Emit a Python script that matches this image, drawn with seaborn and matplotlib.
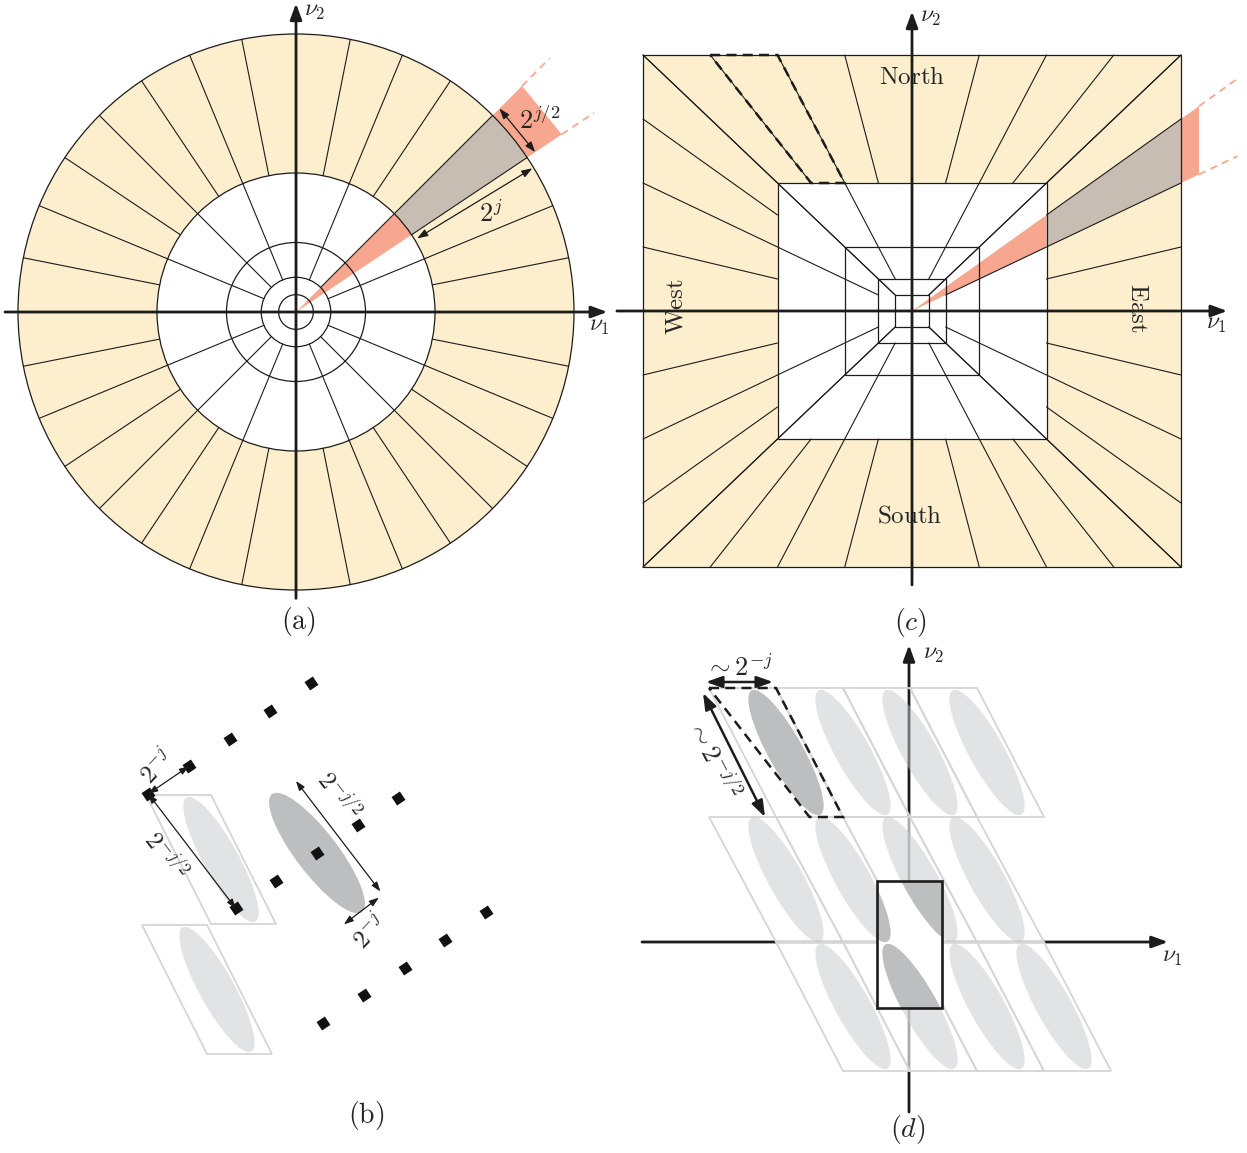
import numpy as np
import matplotlib
matplotlib.use("Agg")
import matplotlib.pyplot as plt
import seaborn as sns
from matplotlib.patches import Wedge, Circle, Polygon, Rectangle, Ellipse

W, H = 1247, 1153

# ---- panel (a): polar (curvelet) tiling ----
RING_RADII = [1 / 16, 1 / 8, 1 / 4, 1 / 2, 1]
OUTER_SPOKES = 32          # angular wedges in the outer band
INNER_SPOKE_START = 1 / 8  # every second spoke reaches down to this ring
HIGHLIGHT_SECTOR = [3, 4]  # wedge edges, in units of 360/32 degrees

# ---- panel (c): pseudo-polar (shearlet) tiling ----
SQUARE_LEVELS = [1 / 16, 1 / 8, 1 / 4, 1 / 2, 1]
SLOPES = [-1, -0.75, -0.5, -0.25, 0, 0.25, 0.5, 0.75, 1]
HIGHLIGHT_SLOPES = [0.5, 0.75]
DASHED_SLOPES = [-0.75, -0.5]
CONE_NAMES = ["North", "South", "West", "East"]

# ---- panel (b): sampling lattice ----
LATTICE_A = (-40.6, -27.7)   # step 2^-j
LATTICE_B = (87.5, -114.5)   # step 2^-j/2
LATTICE_ROWS = [-1, 0, 1]
LATTICE_COLS = [-2, -1, 0, 1, 2]
B_CELL_TOPLEFT = [(-171, 58), (-175, -72)]
B_CELL_SIZE = (65, 129)
BIG_ELLIPSE = (148, 42)      # length, width

# ---- panel (d): sheared tiles ----
CELL_W = 67
ROW_TOP = [254, 125, 0]
ROW_H = [129, 125, 129]
ROW_X0 = [-200, -200, -133]
ROW_VEIL = [0.0, 0.62, 0.62]
CELLS_PER_ROW = 4
TILE_ELLIPSE = (142, 35, -61, 10)  # length, width, angle, shift
WINDOW = (-32, -66, 65, 127)

INK = "#1c1c1c"
CREAM = "#fdefcd"
SALMON = "#f7a78f"
TAUPE = "#c8bdb3"
LIGHT = (0.78, 0.79, 0.80)
DARK = "#bdbec0"
EDGE = "#d5d5d5"

sns.set_theme(style="white")
plt.rcParams["mathtext.fontset"] = "cm"
plt.rcParams["font.family"] = ["DejaVu Serif"]

fig = plt.figure(figsize=(W / 100, H / 100), dpi=100)


def panel_axes(box, center, scale):
    x0, y0, x1, y1 = box
    cx, cy = center
    sx, sy = scale
    ax = fig.add_axes([x0 / W, 1 - y1 / H, (x1 - x0) / W, (y1 - y0) / H])
    ax.set_xlim((x0 - cx) / sx, (x1 - cx) / sx)
    ax.set_ylim((cy - y1) / sy, (cy - y0) / sy)
    ax.set_axis_off()
    return ax


def axis_arrow(ax, start, end, lw=2.0, z=6):
    ax.annotate("", xy=end, xytext=start, annotation_clip=False, zorder=z,
                arrowprops=dict(arrowstyle="-|>,head_length=0.6,head_width=0.22",
                                color=INK, lw=lw, mutation_scale=16,
                                shrinkA=0, shrinkB=0))


def dim_arrow(ax, p, q, lw=0.9, ms=9, z=8):
    ax.annotate("", xy=q, xytext=p, annotation_clip=False, zorder=z,
                arrowprops=dict(arrowstyle="<|-|>,head_length=0.7,head_width=0.25",
                                color=INK, lw=lw, mutation_scale=ms,
                                shrinkA=0, shrinkB=0))


def polar(r, deg):
    t = np.deg2rad(deg)
    return r * np.cos(t), r * np.sin(t)


# =================== (a) ===================
axA = panel_axes((0, 0, 620, 640), (296, 312), (278, 278))
axA.add_patch(Wedge((0, 0), 1, 0, 360, width=0.5, fc=CREAM, ec="none", zorder=1))
th0, th1 = np.array(HIGHLIGHT_SECTOR) * 360 / OUTER_SPOKES
axA.add_patch(Wedge((0, 0), 0.5, th0, th1, fc=SALMON, ec="none", zorder=2))
axA.add_patch(Wedge((0, 0), 1, th0, th1, width=0.5, fc=TAUPE, ec="none", zorder=2))
arc = np.linspace(th0, th1, 30)
tab = [polar(1, a) for a in arc] + [polar(1.15, th1), polar(1.15, th0)]
axA.add_patch(Polygon(tab, fc=SALMON, ec="none", zorder=2))
for a in (th0, th1):
    p, q = polar(1.15, a), polar(1.29, a)
    axA.plot([p[0], q[0]], [p[1], q[1]], color=SALMON, lw=1.3,
             ls=(0, (4, 3)), zorder=2, clip_on=False)

for r in RING_RADII:
    axA.add_patch(Circle((0, 0), r, fill=False, ec=INK, lw=0.9, zorder=3))
for k in range(OUTER_SPOKES):
    ang = k * 360 / OUTER_SPOKES
    r0 = INNER_SPOKE_START if k % 2 == 0 else 0.5
    p, q = polar(r0, ang), polar(1, ang)
    axA.plot([p[0], q[0]], [p[1], q[1]], color=INK, lw=0.8, zorder=3)

axis_arrow(axA, (-1.047, 0), (1.12, 0))
axis_arrow(axA, (0, -1.03), (0, 1.11))
axA.text(1.09, -0.05, r"$\nu_1$", fontsize=17, ha="center", va="center")
axA.text(0.068, 1.083, r"$\nu_2$", fontsize=17, ha="center", va="center")

dim_arrow(axA, polar(1.035, th1), polar(1.035, th0))
dim_arrow(axA, polar(0.51, 31.3), polar(0.995, 31.3))
axA.text(0.875, 0.69, r"$2^{j/2}$", fontsize=19, ha="center", va="center", zorder=9)
axA.text(0.70, 0.355, r"$2^{j}$", fontsize=19, ha="center", va="center", zorder=9)
axA.text(0.007, -1.115, r"$(\mathrm{a})$", fontsize=20, ha="center", va="center")

# =================== (c) ===================
axC = panel_axes((615, 0, 1247, 640), (912, 311), (269, 256))
axC.add_patch(Rectangle((-1, -1), 2, 2, fc=CREAM, ec="none", zorder=1))
axC.add_patch(Rectangle((-0.5, -0.5), 1, 1, fc="white", ec="none", zorder=1))


def side_pt(side, t, L):
    return {"E": (L, L * t), "W": (-L, L * t),
            "N": (L * t, L), "S": (L * t, -L)}[side]


s0, s1 = HIGHLIGHT_SLOPES
axC.add_patch(Polygon([(0, 0), (0.5, 0.5 * s0), (0.5, 0.5 * s1)],
                      fc=SALMON, ec="none", zorder=2))
axC.add_patch(Polygon([(0.5, 0.5 * s0), (1, s0), (1, s1), (0.5, 0.5 * s1)],
                      fc=TAUPE, ec="none", zorder=2))
axC.add_patch(Polygon([(1, s0), (1.067, 1.067 * s0), (1.067, 1.067 * s1), (1, s1)],
                      fc=SALMON, ec="none", zorder=2))
for s in HIGHLIGHT_SLOPES:
    axC.plot([1.067, 1.21], [1.067 * s, 1.21 * s], color=SALMON, lw=1.3,
             ls=(0, (4, 3)), zorder=2, clip_on=False)

for L in SQUARE_LEVELS:
    axC.add_patch(Rectangle((-L, -L), 2 * L, 2 * L, fill=False, ec=INK,
                            lw=0.9, zorder=3))
for side in "NSEW":
    for t in SLOPES:
        if t == 0:
            continue
        if abs(t) == 1:
            L0 = SQUARE_LEVELS[0]
        elif abs(t) == 0.5:
            L0 = SQUARE_LEVELS[1]
        else:
            L0 = SQUARE_LEVELS[3]
        p, q = side_pt(side, t, L0), side_pt(side, t, 1)
        axC.plot([p[0], q[0]], [p[1], q[1]], color=INK, lw=0.8, zorder=3)

d0, d1 = DASHED_SLOPES
trap = [side_pt("N", d0, 1), side_pt("N", d1, 1),
        side_pt("N", d1, 0.5), side_pt("N", d0, 0.5)]
axC.add_patch(Polygon(trap, fill=False, ec=INK, lw=1.8,
                      ls=(0, (4, 2.5)), zorder=4))

axis_arrow(axC, (-1.097, 0), (1.172, 0))
axis_arrow(axC, (0, -1.07), (0, 1.17))
axC.text(1.13, -0.05, r"$\nu_1$", fontsize=17, ha="center", va="center")
axC.text(0.069, 1.152, r"$\nu_2$", fontsize=17, ha="center", va="center")

cone_pos = {"North": (0, 0.914, 0), "South": (-0.007, -0.80, 0),
            "West": (-0.877, 0.016, 90), "East": (0.84, 0.012, -90)}
for name in CONE_NAMES:
    x, y, rot = cone_pos[name]
    axC.text(x, y, r"$\mathrm{%s}$" % name, fontsize=18, ha="center",
             va="center", rotation=rot, zorder=7)
axC.text(-0.007, -1.215, r"$(c)$", fontsize=20, ha="center", va="center")


# =================== (b) ===================
def cell_corners(tl, w, h):
    x, y = tl
    return [(x, y), (x + w, y), (x + 2 * w, y - h), (x + w, y - h)]


def tile_ellipse(tl, w, h, color, alpha=1.0, z=3):
    length, width, ang, shift = TILE_ELLIPSE
    c = (tl[0] + w + shift, tl[1] - h / 2)
    return Ellipse(c, length, width, angle=ang, fc=color, ec="none",
                   alpha=alpha, zorder=z)


axB = panel_axes((100, 640, 520, 1153), (317, 853), (1, 1))
bw, bh = B_CELL_SIZE
for tl in B_CELL_TOPLEFT:
    axB.add_patch(Polygon(cell_corners(tl, bw, bh), fill=False, ec=EDGE,
                          lw=1.3, zorder=2))
    axB.add_patch(tile_ellipse(tl, bw, bh, LIGHT, alpha=0.5))

ang_b = np.degrees(np.arctan2(LATTICE_B[1], LATTICE_B[0]))
axB.add_patch(Ellipse((0, 0), BIG_ELLIPSE[0], BIG_ELLIPSE[1], angle=ang_b,
                      fc=DARK, ec="none", zorder=3))

pts = np.array([[k * LATTICE_B[0] + i * LATTICE_A[0],
                 k * LATTICE_B[1] + i * LATTICE_A[1]]
                for k in LATTICE_ROWS for i in LATTICE_COLS])
sns.scatterplot(x=pts[:, 0], y=pts[:, 1], ax=axB, marker=(4, 0, -11),
                s=105, color="#111111", linewidth=0, zorder=5, legend=False)
axB.set_xlim(100 - 317, 520 - 317)
axB.set_ylim(853 - 1153, 853 - 640)


def lat(k, i):
    return (k * LATTICE_B[0] + i * LATTICE_A[0], k * LATTICE_B[1] + i * LATTICE_A[1])


ub = np.array(LATTICE_B) / np.hypot(*LATTICE_B)
nb = np.array([-ub[1], ub[0]])
if nb[1] < 0:
    nb = -nb
dim_arrow(axB, lat(-1, 2), lat(-1, 1), ms=8)
dim_arrow(axB, lat(-1, 2), lat(0, 2), ms=8)
dim_arrow(axB, tuple(-70 * ub + 27 * nb), tuple(69 * ub + 27 * nb), ms=8)
dim_arrow(axB, tuple(73 * ub - 22 * nb), tuple(73 * ub + 22 * nb), ms=8)
ang_a = np.degrees(np.arctan2(-LATTICE_A[1], -LATTICE_A[0]))
axB.text(-160, 86, r"$2^{-j}$", fontsize=18, rotation=ang_a + 12,
         ha="center", va="center")
axB.text(-152, -3, r"$2^{-j/2}$", fontsize=18, rotation=ang_b,
         ha="center", va="center")
axB.text(*(-32 * ub + 52 * nb), r"$2^{-j/2}$", fontsize=18, rotation=ang_b,
         ha="center", va="center")
axB.text(*(95 * ub - 6 * nb), r"$2^{-j}$", fontsize=18, rotation=ang_a + 12,
         ha="center", va="center")
axB.text(49, -262, r"$(\mathrm{b})$", fontsize=20, ha="center", va="center")

# =================== (d) ===================
axD = panel_axes((630, 640, 1247, 1153), (909, 942), (1, 1))
axis_arrow(axD, (-267, 0), (259, 0), z=1)
axis_arrow(axD, (0, -170), (0, 297), z=1)

tiles = []
for r, (ytop, h, x0, veil) in enumerate(zip(ROW_TOP, ROW_H, ROW_X0, ROW_VEIL)):
    for c in range(CELLS_PER_ROW):
        tl = (x0 + c * CELL_W, ytop)
        axD.add_patch(Polygon(cell_corners(tl, CELL_W, h),
                              fc=(1, 1, 1, veil), ec=EDGE, lw=1.3, zorder=2))
        tiles.append((r, c, tl, h))

for r, c, tl, h in tiles:
    if (r, c) == (0, 0):
        axD.add_patch(tile_ellipse(tl, CELL_W, h, DARK, z=3))
    else:
        axD.add_patch(tile_ellipse(tl, CELL_W, h, LIGHT, alpha=0.5))

tl0, h0 = tiles[0][2], tiles[0][3]
trap_d = [tl0, (tl0[0] + CELL_W, tl0[1]), (tl0[0] + 2 * CELL_W, tl0[1] - h0),
          (tl0[0] + 1.5 * CELL_W, tl0[1] - h0)]
axD.add_patch(Polygon(trap_d, fill=False, ec=INK, lw=1.8,
                      ls=(0, (4, 2.5)), zorder=4))

wx, wy, ww, wh = WINDOW
axD.add_patch(Rectangle((wx, wy), ww, wh, fc="white", ec="none", zorder=5))
clip = Rectangle((wx, wy), ww, wh, transform=axD.transData)
for r, c, tl, h in tiles:
    e = tile_ellipse(tl, CELL_W, h, DARK, z=6)
    axD.add_patch(e)
    e.set_clip_path(clip)
axD.add_patch(Rectangle((wx, wy), ww, wh, fill=False, ec=INK, lw=1.9, zorder=7))

dim_arrow(axD, (-203, 260), (-136, 260), lw=1.8, ms=14)
dim_arrow(axD, (-206, 249), (-144, 125), lw=1.8, ms=14)
axD.text(-170, 275, r"$\sim 2^{-j}$", fontsize=19, ha="center", va="center")
axD.text(-196, 183, r"$\sim 2^{-j/2}$", fontsize=19, rotation=-63,
         ha="center", va="center")
axD.text(263, -15, r"$\nu_1$", fontsize=17, ha="center", va="center")
axD.text(25, 288, r"$\nu_2$", fontsize=17, ha="center", va="center")
axD.text(-1, -188, r"$(d)$", fontsize=20, ha="center", va="center")

fig.savefig("out.png", dpi=100, facecolor="white")
